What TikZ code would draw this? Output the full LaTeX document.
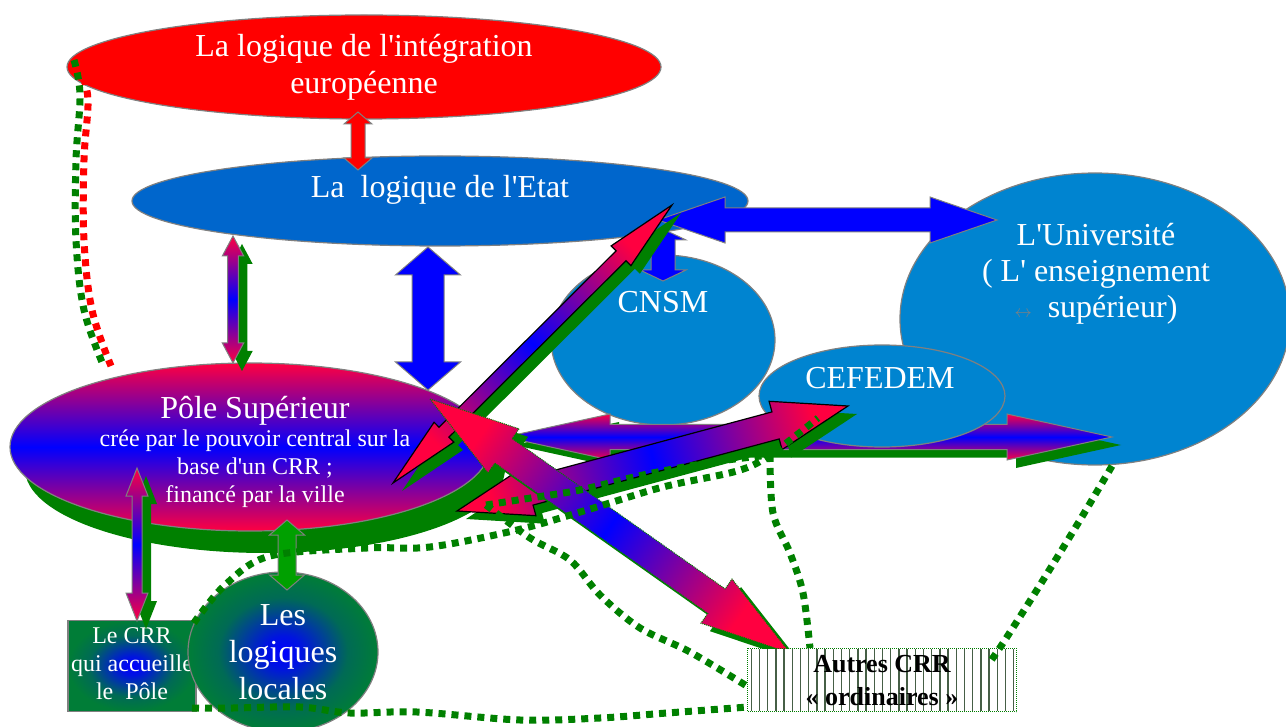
\documentclass[tikz,border=0pt]{standalone}
\usepackage{fontspec}
\setmainfont{Liberation Serif}[Ligatures=TeXOff]
\usetikzlibrary{shapes.geometric,calc,shadows}

\definecolor{etatblue}{RGB}{0,102,204}
\definecolor{skyblue}{RGB}{0,132,208}
\definecolor{pinkred}{RGB}{255,0,64}
\definecolor{leafgreen}{RGB}{0,128,0}
\definecolor{brightgreen}{RGB}{0,160,0}
\definecolor{mossgreen}{RGB}{0,125,55}
\definecolor{hatchgray}{RGB}{70,95,70}

\pgfdeclareradialshading{bluecore}{\pgfpoint{0bp}{0bp}}{color(0bp)=(blue); color(5bp)=(blue!85!mossgreen); color(17bp)=(mossgreen!85!blue); color(25bp)=(mossgreen); color(50bp)=(mossgreen)}

% fat double arrow from #2 to #3: #4 half shaft, #5 half head, #6 head length
\newcommand\fatarrow[6]{%
  \path[#1] (#2) -- ($(#2)!#6!(#3)!#5!90:(#3)$) -- ($(#2)!#6!(#3)!#4!90:(#3)$)
    -- ($(#3)!#6!(#2)!#4!-90:(#2)$) -- ($(#3)!#6!(#2)!#5!-90:(#2)$) -- (#3)
    -- ($(#3)!#6!(#2)!#5!90:(#2)$) -- ($(#3)!#6!(#2)!#4!90:(#2)$)
    -- ($(#2)!#6!(#3)!#4!-90:(#3)$) -- ($(#2)!#6!(#3)!#5!-90:(#3)$) -- cycle;}

\begin{document}
\begin{tikzpicture}[x=1pt,y=-1pt,
  blob/.style={ellipse,draw=gray,line width=1.2pt,inner sep=0pt},
  words/.style={text=white,align=center,font=\fontsize{32}{37}\selectfont},
  rosy/.style={top color=pinkred,bottom color=pinkred,middle color=blue},
  greenshadow/.style={drop shadow={shadow xshift=9pt,shadow yshift=-8pt,fill=leafgreen,opacity=1}},
  rim/.style={draw=gray,line width=1pt},
  dotline/.style={leafgreen,line width=7pt,dash pattern=on 7pt off 6pt}]
\useasboundingbox (0,0) rectangle (1286,727);

% the two logics on top
\node[blob,fill=red,minimum width=594pt,minimum height=104pt] (euro) at (364,67) {};
\node[words] (euro-text) at (364,67) {La logique de l'intégration\\européenne};
\node[blob,fill=etatblue,minimum width=616pt,minimum height=90pt] (etat) at (440,201) {};
\node[words] (etat-text) at (440,190) {La\ \ logique de l'Etat};

\coordinate (euro-s) at (358,112);
\coordinate (etat-n) at (358,170);
\fatarrow{fill=red,rim}{euro-s}{etat-n}{7pt}{14pt}{12pt}

% national schools
\node[blob,fill=skyblue,minimum width=224pt,minimum height=170pt] (cnsm) at (663,340) {};
\node[blob,fill=skyblue,minimum width=390pt,minimum height=292pt] (univ) at (1095,319) {};
\node[words] (cnsm-text) at (663,302) {CNSM};
\node[words,font=\fontsize{32}{36}\selectfont] (univ-text) at (1096,274) {L'Université\\( L' enseignement\\{\color{gray}\fontsize{16}{16}\selectfont$\leftrightarrow$}\ \ supérieur)};

\coordinate (etat-cnsm) at (663,229);
\coordinate (cnsm-n) at (663,281);
\fatarrow{fill=blue,rim}{etat-cnsm}{cnsm-n}{12pt}{23pt}{11pt}
\coordinate (etat-e) at (658,220);
\coordinate (univ-w) at (997,220);
\fatarrow{fill=blue,rim}{etat-e}{univ-w}{12pt}{23pt}{67pt}

% the Pole
\node[blob,rosy,minimum width=480pt,minimum height=168pt,
  drop shadow={shadow xshift=15pt,shadow yshift=-22pt,fill=leafgreen,opacity=1}] (pole) at (250,447) {};
\node[words,font=\fontsize{24}{28}\selectfont] (pole-text) at (255,452)
  {{\fontsize{32}{36}\selectfont Pôle Supérieur}\\crée par le pouvoir central sur la\\base d'un CRR ;\\financé par la ville};

\coordinate (etat-sw) at (233,236);
\coordinate (pole-n) at (233,363);
\fatarrow{rosy,rim,greenshadow}{etat-sw}{pole-n}{5.3pt}{10.7pt}{20pt}
\coordinate (etat-s) at (428,247);
\coordinate (pole-ne) at (428,390);
\fatarrow{fill=blue,rim}{etat-s}{pole-ne}{16pt}{32.5pt}{28pt}

\coordinate (pole-e) at (505,437);
\coordinate (univ-sw) at (1112,437);
\fatarrow{rosy,rim,greenshadow}{pole-e}{univ-sw}{12.5pt}{23pt}{105pt}

\node[blob,fill=skyblue,minimum width=246pt,minimum height=102pt] (cefedem) at (882,396) {};
\node[words] (cefedem-text) at (880,378) {CEFEDEM};

% crossing arrows
\coordinate (pole-x) at (393,483);
\coordinate (etat-x) at (672,205);
\fatarrow{rosy,shading angle=-45,draw=black,line width=1.2pt,greenshadow}{pole-x}{etat-x}{7pt}{14pt}{72pt}
\coordinate (pole-se) at (457,511);
\coordinate (cefedem-w) at (848,406);
\fatarrow{rosy,shading angle=-75,draw=black,line width=1.2pt,greenshadow}{pole-se}{cefedem-w}{14pt}{25pt}{75pt}
\coordinate (pole-h) at (430,399);
\coordinate (autres-nw) at (790,653);
\fatarrow{rosy,shading angle=55,draw=leafgreen,densely dotted,line width=1pt,greenshadow}{pole-h}{autres-nw}{15pt}{27pt}{90pt}

% local level
\node[draw=gray,line width=1.2pt,shading=bluecore,minimum width=128pt,minimum height=91pt,inner sep=0pt] (lecrr) at (132,666) {};
\node[words,font=\fontsize{24}{28}\selectfont] (lecrr-text) at (132,664) {Le CRR\\qui accueille\\le\ \ Pôle};
\node[blob,shading=bluecore,minimum width=190pt,minimum height=160pt] (locales) at (283,652) {};
\node[words] (locales-text) at (283,652) {Les\\logiques\\locales};

\coordinate (pole-s) at (287,520);
\coordinate (locales-n) at (287,590);
\fatarrow{fill=brightgreen,rim}{pole-s}{locales-n}{9pt}{17.5pt}{15pt}
\coordinate (pole-sw) at (137,468);
\coordinate (lecrr-n) at (137,621);
\fatarrow{rosy,rim,greenshadow}{pole-sw}{lecrr-n}{5pt}{11pt}{28pt}

\node[fill=white,minimum width=269pt,minimum height=63pt,inner sep=0pt] (autres) at (882,680) {};
\foreach \i in {0,...,32}
  \draw[hatchgray,line width=1.3pt] ($(autres.north west)+(4+8.2*\i,1)$) -- ($(autres.south west)+(4+8.2*\i,-1)$);
\draw[leafgreen,densely dotted,line width=1pt] (autres.north west) rectangle (autres.south east);
\node[font=\bfseries\fontsize{26}{33}\selectfont,align=center] (autres-text) at (882,681) {Autres CRR\\« ordinaires »};

% dotted links
\coordinate (euro-w) at (74,60);
\coordinate (pole-nw) at (104,367);
\draw[dotline,red,dash phase=6.5pt] plot[smooth,tension=0.6] coordinates {(81,72) (88,100) (84,160) (84,240) (92,310) (111,366)};
\draw[dotline] plot[smooth,tension=0.6] coordinates {(euro-w) (80,95) (76,160) (76,240) (84,310) (pole-nw)};

\coordinate (pj) at (486,505);
\coordinate (dj) at (770,455);
\coordinate (cefedem-sw) at (818,418);
\coordinate (autres-n) at (810,648);
\coordinate (autres-w) at (750,688);
\coordinate (autres-ne) at (990,662);
\coordinate (autres-sw) at (748,707);
\coordinate (univ-s) at (1112,466);
\coordinate (lecrr-se) at (192,708);
\draw[dotline] plot[smooth,tension=0.55] coordinates {(locales.162) (225,585) (270,556) (367,548) (430,547) (517,530) (587,510) (663,487) (737,471) (dj) (cefedem-sw)};
\draw[dotline] plot[smooth,tension=0.55] coordinates {(pj) (537,497) (580,490) (643,475) (713,462) (dj)};
\draw[dotline] plot[smooth,tension=0.55] coordinates {(dj) (773,513) (790,553) (803,593) (autres-n)};
\draw[dotline] plot[smooth,tension=0.55] coordinates {(pj) (530,538) (570,560) (600,595) (640,628) (690,652) (autres-w)};
\draw[dotline] plot[smooth,tension=0.55] coordinates {(univ-s) (1080,520) (1040,585) (1005,640) (autres-ne)};
\draw[dotline] plot[smooth,tension=0.55] coordinates {(lecrr-se) (233,708) (300,707) (350,713) (417,712) (520,720) (600,718) (667,713) (autres-sw)};
\end{tikzpicture}
\end{document}
